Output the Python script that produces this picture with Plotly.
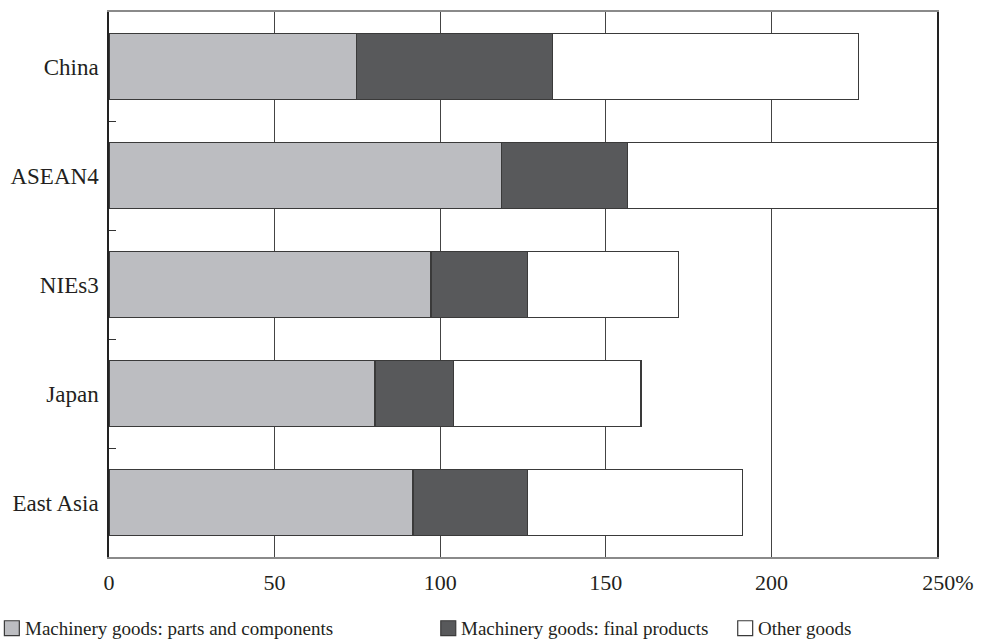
import plotly.graph_objects as go

categories = ["China", "ASEAN4", "NIEs3", "Japan", "East Asia"]
parts_components = [74.8, 118.6, 97.2, 80.3, 91.8]
final_products = [59.1, 37.9, 29.2, 23.8, 34.6]
other_goods = [92.4, 100.0, 45.5, 56.5, 64.8]

series_names = ["Machinery goods: parts and components",
                "Machinery goods: final products",
                "Other goods"]
series_colors = ["#bcbdc1", "#58595b", "#ffffff"]
tick_vals = [0, 50, 100, 150, 200, 250]
tick_text = ["0", "50", "100", "150", "200", "\u2003250%"]

FONT = "'Liberation Serif', 'Times New Roman', 'DejaVu Serif', serif"
W, H = 984, 641
L, R, T, B = 108, 45, 10, 84

fig = go.Figure()
for name, vals, col in zip(series_names, [parts_components, final_products, other_goods], series_colors):
    fig.add_trace(go.Bar(
        y=categories, x=vals, name=name, orientation="h",
        marker=dict(color=col, line=dict(color="#3a3a3a", width=1.2)),
        width=0.6, showlegend=False, hoverinfo="skip"))

fig.update_layout(
    width=W, height=H, barmode="stack",
    margin=dict(l=L, r=R, t=T, b=B),
    paper_bgcolor="white", plot_bgcolor="white",
    font=dict(family=FONT, color="#231f20", size=22),
    xaxis=dict(range=[0, 250], tickvals=tick_vals, ticktext=tick_text,
               showgrid=True, gridcolor="#444444", gridwidth=1,
               showline=True, linecolor="#8a8a8a", linewidth=1.5, mirror=True,
               ticks="", ticklabelstandoff=5, zeroline=False,
               tickfont=dict(size=22, family=FONT)),
    yaxis=dict(categoryorder="array", categoryarray=categories[::-1],
               showline=True, linecolor="#222222", linewidth=1.5, mirror=True,
               ticks="inside", ticklen=7, tickcolor="#333333", tickson="boundaries",
               showgrid=False, ticklabelstandoff=4, tickfont=dict(size=23, family=FONT)),
)

pw = W - L - R
ph = H - T - B
def px2x(px):
    return (px - L) / pw
def py2y(py):
    return (H - B - py) / ph

legend_sq_x = [3, 441, 739]
legend_txt_x = [22, 459, 757]
sq_top, sq_bot = 621, 636
for name, col, sx, tx in zip(series_names, series_colors, legend_sq_x, legend_txt_x):
    fig.add_shape(type="rect", xref="paper", yref="paper",
                  x0=px2x(sx), x1=px2x(sx + 15), y0=py2y(sq_bot), y1=py2y(sq_top),
                  fillcolor=col, line=dict(color="#3a3a3a", width=1.2))
    fig.add_annotation(text=name, xref="paper", yref="paper",
                       x=px2x(tx), y=py2y(629), xanchor="left", yanchor="middle",
                       showarrow=False, font=dict(size=19, family=FONT, color="#231f20"))

fig.write_html("out.html", config={"displayModeBar": False},
               post_script="document.body.style.margin='0';document.body.style.padding='0';")
